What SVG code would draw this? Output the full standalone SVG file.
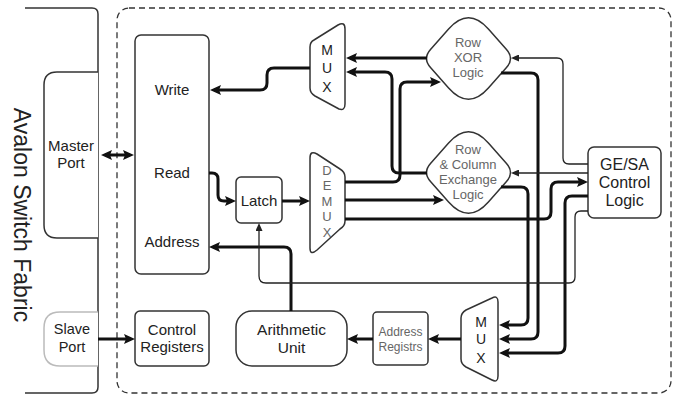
<svg xmlns="http://www.w3.org/2000/svg" width="675" height="398" viewBox="0 0 675 398">
<style>
.node{fill:#fff;stroke:#333;stroke-width:1.5;stroke-linejoin:round}
.t{font-family:"Liberation Sans",Arial,sans-serif;font-size:15px;fill:#222;text-anchor:middle}
.g{fill:#666;font-size:13px}
.thick{fill:none;stroke:#111;stroke-width:3;marker-end:url(#ah)}
.thin{fill:none;stroke:#222;stroke-width:1.3;marker-end:url(#ahs)}
</style>
<defs>
<marker id="ah" viewBox="0 0 11 10" refX="7" refY="5" markerWidth="11" markerHeight="10" markerUnits="userSpaceOnUse" orient="auto-start-reverse"><path d="M0,0 L11,5 L0,10 L2,5 z" fill="#111"/></marker>
<marker id="ahs" viewBox="0 0 8 7" refX="6" refY="3.5" markerWidth="8" markerHeight="7" markerUnits="userSpaceOnUse" orient="auto"><path d="M0,0 L8,3.5 L0,7 z" fill="#222"/></marker>
<path id="hex" d="M448.6,29 Q468.5,6.5 488.4,29 L506.5,49.5 Q514.5,58.5 506.5,67.5 L488.4,88 Q468.5,110.5 448.6,88 L430.5,67.5 Q422.5,58.5 430.5,49.5 Z"/>
</defs>

<g id="fabric">
<path d="M25,8 H92 Q98,8 98,14 V387 Q98,393 92,393 H25" fill="none" stroke="#333" stroke-width="1.5"/>
<text class="t" transform="translate(14,215) rotate(90)" style="font-size:23px">Avalon Switch Fabric</text>
</g>
<g id="master-port">
<path class="node" d="M98,72 H57 Q44,72 44,85 V225 Q44,238 57,238 H98"/>
<text class="t" x="71" y="151">Master</text><text class="t" x="71" y="168">Port</text>
</g>
<g id="slave-port">
<path d="M98,312 H60 Q44,312 44,328 V350 Q44,366 60,366 H98" fill="#fff" stroke="#bbb" stroke-width="1.5"/>
<text class="t" x="72" y="334" style="font-size:14.5px">Slave</text><text class="t" x="72" y="352" style="font-size:14.5px">Port</text>
</g>
<g id="module">
<rect x="117" y="8" width="554" height="385" rx="12" fill="none" stroke="#333" stroke-width="1.3" stroke-dasharray="6 4"/>
</g>
<g id="memory">
<rect class="node" x="135" y="35" width="74" height="239" rx="6"/>
<text class="t" x="172" y="95">Write</text>
<text class="t" x="172" y="178">Read</text>
<text class="t" x="172" y="247">Address</text>
</g>
<g id="control-registers">
<rect class="node" x="135" y="311" width="74" height="55" rx="5"/>
<text class="t" x="172" y="335">Control</text><text class="t" x="172" y="352">Registers</text>
</g>
<g id="latch">
<rect class="node" x="236" y="177" width="46" height="46" rx="5"/>
<text class="t" x="259" y="206">Latch</text>
</g>
<g id="mux-top">
<path class="node" d="M310,47 Q310,42 314,40 L338,25 Q345,21 345,29 V104 Q345,111 339,109 L315,96 Q310,93 310,88 Z"/>
<text class="t" x="327" y="55" style="font-size:14px">M</text>
<text class="t" x="327" y="73" style="font-size:14px">U</text>
<text class="t" x="327" y="92" style="font-size:14px">X</text>
</g>
<g id="demux">
<path class="node" d="M310,158 Q310,150 317,154 L340,169 Q345,172 345,177 V221 Q345,226 340,229 L317,250 Q310,256 310,248 Z"/>
<text class="t g" x="327" y="175">D</text>
<text class="t g" x="327" y="190">E</text>
<text class="t g" x="327" y="206">M</text>
<text class="t g" x="327" y="221">U</text>
<text class="t g" x="327" y="237">X</text>
</g>
<g id="row-xor">
<use href="#hex" class="node"/>
<text class="t g" x="468" y="47">Row</text>
<text class="t g" x="468" y="62">XOR</text>
<text class="t g" x="468" y="77">Logic</text>
</g>
<g id="row-col-exchange">
<use href="#hex" class="node" transform="translate(0,114)"/>
<text class="t g" x="468" y="154">Row</text>
<text class="t g" x="468" y="169">&amp; Column</text>
<text class="t g" x="468" y="184">Exchange</text>
<text class="t g" x="468" y="199">Logic</text>
</g>
<g id="gesa">
<rect class="node" x="588" y="147" width="73" height="71" rx="6"/>
<text class="t" x="624.5" y="170" style="font-size:16px">GE/SA</text>
<text class="t" x="624.5" y="188" style="font-size:16px">Control</text>
<text class="t" x="624.5" y="206" style="font-size:16px">Logic</text>
</g>
<g id="mux-bottom">
<path class="node" d="M461,318 Q461,313 466,310 L492,298 Q498,295 498,302 V376 Q498,383 492,380 L466,367 Q461,364 461,359 Z"/>
<text class="t" x="481" y="327" style="font-size:14px">M</text>
<text class="t" x="481" y="344" style="font-size:14px">U</text>
<text class="t" x="481" y="363" style="font-size:14px">X</text>
</g>
<g id="address-registers">
<rect class="node" x="373" y="312" width="55" height="53" rx="4"/>
<text class="t g" x="400.5" y="336" style="font-size:12px">Address</text>
<text class="t g" x="400.5" y="351" style="font-size:12px">Registrs</text>
</g>
<g id="arithmetic-unit">
<rect class="node" x="236" y="311" width="111" height="55" rx="16"/>
<text class="t" x="291.5" y="335" style="font-size:15.5px">Arithmetic</text>
<text class="t" x="291.5" y="353" style="font-size:15.5px">Unit</text>
</g>

<g id="connectors">
<path class="thick" d="M105,155 H130" marker-start="url(#ah)"/>
<path class="thick" d="M98,339 H131"/>
<path class="thick" d="M310,68 H274 Q267,68 267,75 V83 Q267,90 260,90 H214"/>
<path class="thick" d="M209,173 H212 Q218,173 218,179 V195 Q218,201 224,201 H232"/>
<path class="thick" d="M282,201 H306"/>
<path class="thick" d="M291,311 V254 Q291,247 284,247 H213"/>
<path class="thick" d="M427,58 H350"/>
<path class="thick" d="M427,173 H399 Q392,173 392,166 V79 Q392,72 385,72 H350"/>
<path class="thick" d="M345,182 H393 Q400,182 400,175 V89 Q400,82 407,82 H437"/>
<path class="thick" d="M345,200 H440"/>
<path class="thick" d="M345,219 H544 Q551,219 551,212 V189 Q551,182 558,182 H584"/>
<path class="thick" d="M501,187 H521 Q528,187 528,194 V318 Q528,325 521,325 H503"/>
<path class="thick" d="M501,73 H531 Q538,73 538,80 V332 Q538,339 531,339 H503"/>
<path class="thick" d="M588,196 H572 Q565,196 565,203 V346 Q565,353 558,353 H503"/>
<path class="thick" d="M461,339 H432"/>
<path class="thick" d="M373,339 H351"/>
<path class="thin" d="M588,211 H581 Q575,211 575,217 V277 Q575,283 569,283 H266 Q259,283 259,276 V225"/>
<path class="thin" d="M588,164 H569 Q563,164 563,158 V64 Q563,58 557,58 H513"/>
<path class="thin" d="M588,173 H513"/>
</g>
</svg>
